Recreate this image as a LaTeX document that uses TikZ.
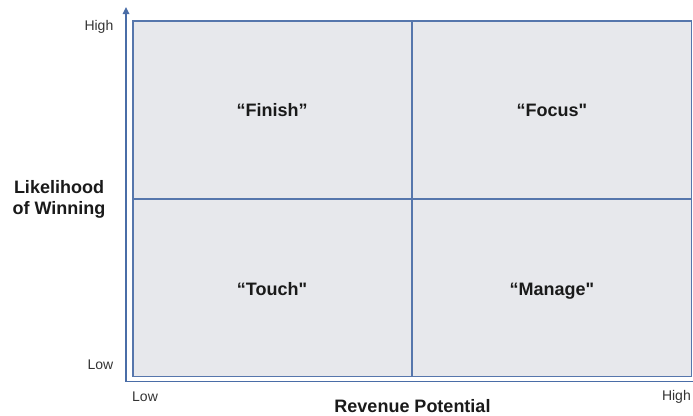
\documentclass[tikz,border=0pt]{standalone}
\usepackage{fontspec}
\setmainfont{Liberation Sans}[Ligatures=TeXOff]
\usetikzlibrary{arrows.meta}
\definecolor{axisblue}{HTML}{4A6DA7}
\definecolor{gridblue}{HTML}{5676AC}
\definecolor{cellgray}{HTML}{E7E8EC}
\definecolor{labeltext}{HTML}{1A1A1A}
\definecolor{ticktext}{HTML}{333333}
\tikzset{
  axisline/.style={draw=axisblue, line width=1.6pt},
  gridline/.style={draw=gridblue, line width=1.2pt},
  quadlabel/.style={font=\fontsize{18}{20}\selectfont\bfseries, text=labeltext, inner sep=0pt, anchor=base},
  axislabel/.style={font=\fontsize{18}{21}\selectfont\bfseries, text=labeltext, inner sep=0pt, align=center},
  ticklabel/.style={font=\fontsize{14}{16}\selectfont, text=ticktext, inner sep=0pt}
}
\begin{document}
\begin{tikzpicture}[x=1pt, y=-1pt]
\useasboundingbox (0,0) rectangle (693,415);
% matrix cells
\draw[gridline, fill=cellgray] (133,21) rectangle (691.5,376.5);
\coordinate (tm) at (412,21);
\coordinate (bm) at (412,376.5);
\coordinate (lm) at (133,199);
\coordinate (rm) at (691.5,199);
\draw[gridline] (tm) -- (bm);
\draw[gridline] (lm) -- (rm);
% axes
\coordinate (origin) at (126,381.5);
\coordinate (ytop) at (126,7);
\coordinate (xend) at (693,381.5);
\draw[axisline, -{Triangle[length=7pt,width=6.5pt]}] (origin) -- (ytop);
\draw[axisline] (origin) -- (xend);
% quadrant names
\node[quadlabel] (finish) at (272,116.5) {“Finish”};
\node[quadlabel] (focus) at (552,116.5) {“Focus"};
\node[quadlabel] (touch) at (272,295) {“Touch"};
\node[quadlabel] (manage) at (552,295) {“Manage"};
% tick labels
\node[ticklabel, anchor=east] (yhigh) at (113.5,27) {High};
\node[ticklabel, anchor=east] (ylow) at (113.5,365) {Low};
\node[ticklabel, anchor=west] (xlow) at (132,397) {Low};
\node[ticklabel, anchor=east] (xhigh) at (691,397) {High};
% axis titles
\node[axislabel] (xtitle) at (412.5,406) {Revenue Potential};
\node[axislabel] (ytitle) at (59,199) {Likelihood\\of Winning};
\end{tikzpicture}
\end{document}
